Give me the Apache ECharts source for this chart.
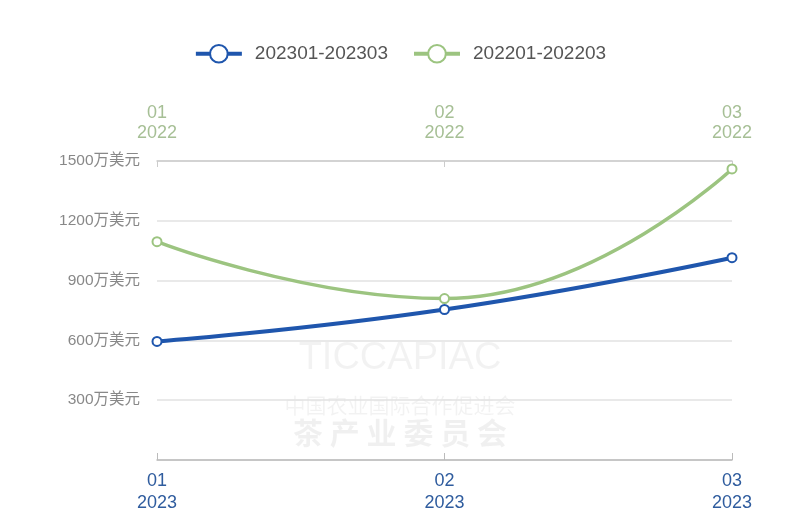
<!DOCTYPE html>
<html><head><meta charset="utf-8">
<script src="https://cdn.jsdelivr.net/npm/echarts@6/dist/echarts.min.js"></script>
<style>html,body{margin:0;padding:0;background:#fff}#c{width:800px;height:523px}</style>
</head><body><div id="c"></div>
<script>
const months = ['01','02','03'];
const year2023 = '2023';
const year2022 = '2022';
const series2023Name = '202301-202303';
const series2022Name = '202201-202203';
const values2023 = [595, 755, 1015];
const values2022 = [1095, 810, 1460];
const yTicks = [0, 300, 600, 900, 1200, 1500];
const unit = '万美元';

const blue = '#1f56ad';
const green = '#9cc480';
const chart = echarts.init(document.getElementById('c'));
chart.setOption({
  animation: false,
  legend: {
    top: 39, left: 'center', itemWidth: 46, itemHeight: 22, itemGap: 24,
    lineStyle: {width: 4},
    itemStyle: {borderWidth: 3.5},
    textStyle: {color: '#555', fontSize: 19, padding: [0, 0, 0, 8], fontFamily: 'Helvetica, Arial, sans-serif'},
    data: [series2023Name, series2022Name]
  },
  graphic: [
    {type: 'text', left: 'center', top: 340, style: {text: 'TICCAPIAC', fill: 'rgba(0,0,0,0.05)', fontSize: 38, fontFamily: 'Arial'}},
    {type: 'text', left: 'center', top: 395, style: {text: '中国农业国际合作促进会', fill: 'rgba(0,0,0,0.05)', fontSize: 21, fontFamily: 'Noto Sans CJK SC'}},
    {type: 'text', left: 'center', top: 418, style: {text: '茶 产 业 委 员 会', fill: 'rgba(0,0,0,0.06)', fontSize: 30, fontWeight: 'bold', fontFamily: 'Noto Sans CJK SC'}}
  ],
  grid: {left: 157, right: 68, top: 161, bottom: 63},
  xAxis: [
    {
      type: 'category', position: 'bottom', boundaryGap: false,
      data: months.map(m => m + '\n' + year2023),
      axisLine: {lineStyle: {color: '#bbb', width: 1.5}},
      axisTick: {inside: true, length: 7, lineStyle: {color: '#bbb'}},
      axisLabel: {color: '#2f5c9e', fontSize: 18, lineHeight: 22, margin: 10, fontFamily: 'Helvetica, Arial, sans-serif'}
    },
    {
      type: 'category', position: 'top', boundaryGap: false,
      data: months.map(m => m + '\n' + year2022),
      axisLine: {lineStyle: {color: '#ccc', width: 1.5}},
      axisTick: {inside: true, length: 6, lineStyle: {color: '#ccc'}},
      axisLabel: {color: '#a6bf95', fontSize: 18, lineHeight: 20, margin: 18, fontFamily: 'Helvetica, Arial, sans-serif'}
    }
  ],
  yAxis: {
    type: 'value', min: yTicks[0], max: yTicks[yTicks.length - 1], interval: yTicks[1] - yTicks[0],
    axisLine: {show: false}, axisTick: {show: false},
    splitLine: {lineStyle: {color: '#e2e2e2', width: 1.5}},
    axisLabel: {showMinLabel: false, color: '#888', fontSize: 15.5, margin: 17, formatter: v => v + unit, fontFamily: 'Helvetica, Arial, "Noto Sans CJK SC", sans-serif'}
  },
  series: [
    {
      name: series2023Name, type: 'line', xAxisIndex: 0, data: values2023, smooth: true,
      symbol: 'emptyCircle', symbolSize: 9, color: blue,
      lineStyle: {color: blue, width: 4}, itemStyle: {color: blue, borderWidth: 3.5}
    },
    {
      name: series2022Name, type: 'line', xAxisIndex: 1, data: values2022, smooth: true,
      symbol: 'emptyCircle', symbolSize: 9, color: green,
      lineStyle: {color: green, width: 3.5}, itemStyle: {color: green, borderWidth: 3}
    }
  ]
});
</script></body></html>
